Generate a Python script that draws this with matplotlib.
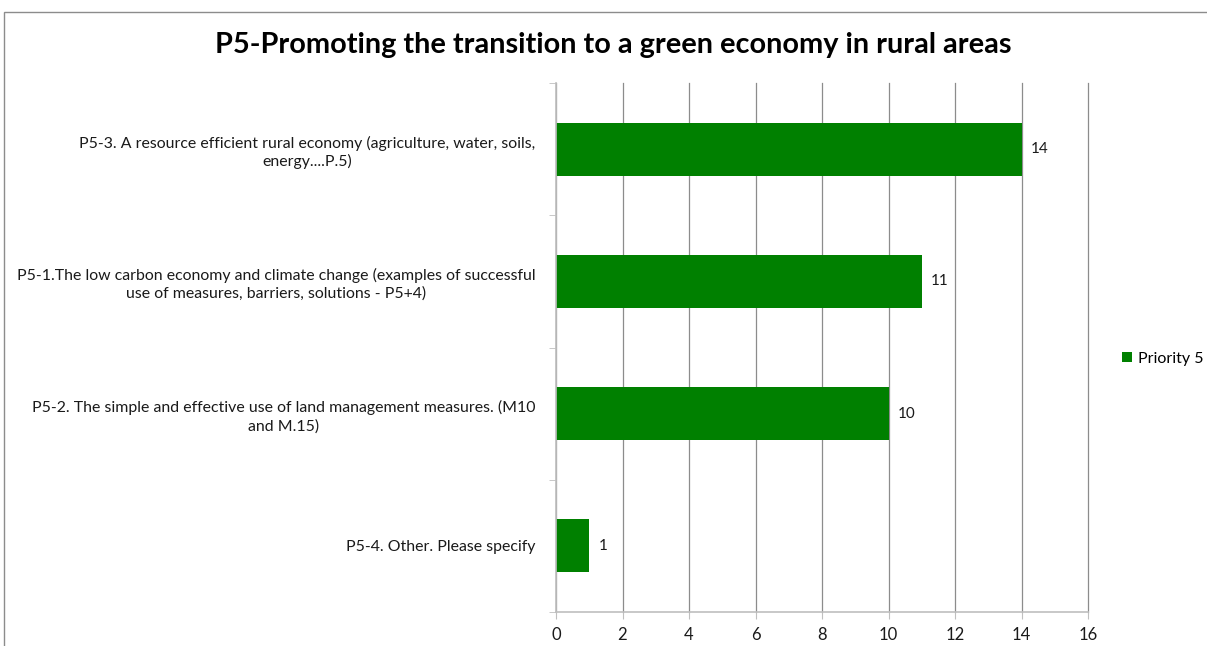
import matplotlib.pyplot as plt
from matplotlib.patches import Rectangle

# data (bottom to top)
categories = [
    "P5-4. Other. Please specify",
    "P5-2. The simple and effective use of land management measures. (M10\nand M.15)",
    "P5-1.The low carbon economy and climate change (examples of successful\nuse of measures, barriers, solutions - P5+4)",
    "P5-3. A resource efficient rural economy (agriculture, water, soils,\nenergy....P.5)",
]
values = [1, 10, 11, 14]
series_name = "Priority 5"
title = "P5-Promoting the transition to a green economy in rural areas"
x_ticks = [0, 2, 4, 6, 8, 10, 12, 14, 16]

plt.rcParams['font.family'] = ['Lato', 'DejaVu Sans']
green = "#008000"

fig = plt.figure(figsize=(12.07, 6.46), dpi=100)
W, H = 1207, 646
# chart frame
fig.patches.append(Rectangle((4 / W, -0.05), 1.2, 1 - 12 / H + 0.05, transform=fig.transFigure,
                             fill=False, edgecolor="#8c8c8c", linewidth=1.0))

ax = fig.add_axes([556 / W, 1 - 612 / H, (1088 - 556) / W, (612 - 83) / H])
ypos = list(range(len(categories)))
bars = ax.barh(ypos, values, height=0.40, color=green, label=series_name, zorder=3)
for y, v in zip(ypos, values):
    ax.text(v + 0.28, y, str(v), va="center", ha="left", fontsize=11, color="#1a1a1a")

ax.set_xlim(0, 16)
ax.set_ylim(-0.5, len(categories) - 0.5)
ax.set_xticks(x_ticks)
ax.set_xticklabels([str(t) for t in x_ticks], fontsize=12, color="#1a1a1a")
ax.set_yticks(ypos)
ax.set_yticklabels(categories, fontsize=11.4, color="#1a1a1a", multialignment="center",
                   linespacing=1.3)
ax.set_yticks([i - 0.5 for i in range(len(categories) + 1)], minor=True)
ax.tick_params(axis="y", which="major", length=0, pad=15)
ax.tick_params(axis="y", which="minor", length=5, color="#bfbfbf")
ax.tick_params(axis="x", length=5, color="#bfbfbf", pad=6)
ax.grid(axis="x", color="#8c8c8c", linewidth=0.9, zorder=0)
for gl in ax.get_xgridlines():
    gl.set_clip_on(False)
for s in ["top", "right"]:
    ax.spines[s].set_visible(False)
for s in ["left", "bottom"]:
    ax.spines[s].set_color("#bfbfbf")
    ax.spines[s].set_linewidth(1.2)
    ax.spines[s].set_zorder(4)

fig.text(613 / W, 1 - 45 / H, title, ha="center", va="center", fontsize=20.8, fontweight="bold")
fig.legend(handles=[bars], labels=[series_name], loc="center left", bbox_to_anchor=(1116 / W, 1 - 359 / H),
           frameon=False, fontsize=11.5, handlelength=0.6, handleheight=0.6, handletextpad=0.4,
           borderaxespad=0)

fig.savefig("out.png", dpi=100)
